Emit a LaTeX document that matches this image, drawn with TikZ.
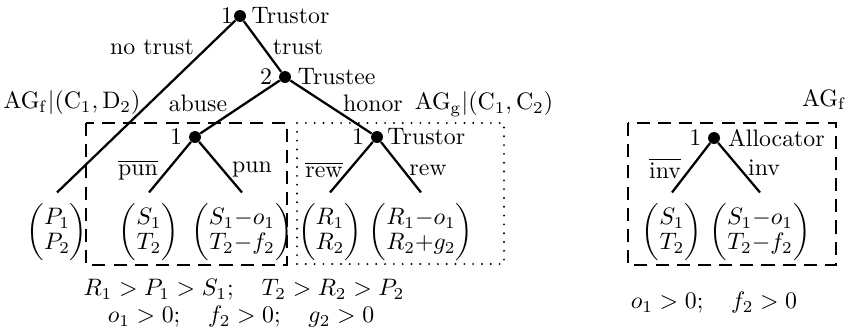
\documentclass[tikz,border=0pt]{standalone}
\usepackage{amsmath}
\usepackage{tikz}
\usetikzlibrary{positioning}

\newcommand{\payvec}[2]{\ensuremath{\renewcommand{\arraystretch}{0.88}\left(\begin{array}{@{}c@{}}#1\\#2\end{array}\right)}}

\begin{document}
\begin{tikzpicture}[x=0.42pt, y=-0.42pt,
    dot/.style={circle, fill=black, inner sep=0pt, minimum size=5pt},
    edge/.style={line width=0.95pt},
    payoff/.style={inner sep=0pt, outer ysep=4.6pt},
    every label/.style={inner sep=1pt},
    grpdash/.style={line width=0.8pt, dash pattern=on 5.5pt off 3.4pt},
    grpdot/.style={line width=0.9pt, dash pattern=on 0pt off 3.7pt, line cap=round},
]
    \useasboundingbox (0,0) rectangle (850,333);

    % trust game
    \node[dot, label={[label distance=-1pt]left:1}, label={[label distance=1pt]right:Trustor}] (root) at (240,16) {};
    \node[dot, label={[label distance=1.5pt]left:2}, label={[label distance=1.5pt]right:Trustee}] (trustee) at (285,77) {};
    \node[dot, label={[label distance=1.5pt]left:1}] (punish) at (195,137) {};
    \node[dot, label={[label distance=1.5pt]left:1}, label={[label distance=0.5pt]right:Trustor}] (reward) at (377,137) {};

    \node[payoff] (pay-nt) at (57,232) {\payvec{P_1}{P_2}};
    \node[payoff] (pay-np) at (149,232) {\payvec{S_1}{T_2}};
    \node[payoff] (pay-p) at (242,232) {\payvec{S_1{-}o_1}{T_2{-}f_2}};
    \node[payoff] (pay-nr) at (330,232) {\payvec{R_1}{R_2}};
    \node[payoff] (pay-r) at (421,232) {\payvec{R_1{-}o_1}{R_2{+}g_2}};

    \draw[edge] (root) -- (pay-nt.north);
    \draw[edge] (root) -- (trustee);
    \draw[edge] (trustee) -- (punish);
    \draw[edge] (trustee) -- (reward);
    \draw[edge] (punish) -- (pay-np.north);
    \draw[edge] (punish) -- (pay-p.north);
    \draw[edge] (reward) -- (pay-nr.north);
    \draw[edge] (reward) -- (pay-r.north);

    \node (l-nt) at (152,47) {no trust};
    \node (l-t) at (298,47) {trust};
    \node (l-ab) at (198,103) {abuse};
    \node (l-ho) at (373,103) {honor};
    \node (l-np) at (138,170) {$\overline{\text{pun}}$};
    \node (l-p) at (252,170) {pun};
    \node (l-nr) at (324,170) {$\overline{\text{rew}}$};
    \node (l-r) at (428,170) {rew};

    % subgames
    \draw[grpdash] (86,123) rectangle (287,265);
    \draw[grpdot] (297,123) rectangle (504,264);
    \node (ag-f) at (72,103) {$\mathrm{AG}_\mathrm{f}|(\mathrm{C}_1,\mathrm{D}_2)$};
    \node (ag-g) at (484,104) {$\mathrm{AG}_\mathrm{g}|(\mathrm{C}_1,\mathrm{C}_2)$};

    \node (cond-a) at (244,290) {$R_1>P_1>S_1;\quad T_2>R_2>P_2$};
    \node (cond-b) at (241,317) {$o_1>0;\quad f_2>0;\quad g_2>0$};

    % allocator game
    \node[dot, label={[label distance=1.5pt]left:1}, label={[label distance=2pt]right:Allocator}] (alloc) at (714,138) {};
    \node[payoff] (pay-ni) at (672,232) {\payvec{S_1}{T_2}};
    \node[payoff] (pay-i) at (760,232) {\payvec{S_1{-}o_1}{T_2{-}f_2}};
    \draw[edge] (alloc) -- (pay-ni.north);
    \draw[edge] (alloc) -- (pay-i.north);
    \node (l-ni) at (665,168) {$\overline{\text{inv}}$};
    \node (l-i) at (764,168) {inv};

    \draw[grpdash] (628,123) rectangle (836,265);
    \node[anchor=east, inner sep=0pt] (ag-a) at (847,100) {$\mathrm{AG}_\mathrm{f}$};
    \node (cond-c) at (714,303) {$o_1>0;\quad f_2>0$};
\end{tikzpicture}
\end{document}
